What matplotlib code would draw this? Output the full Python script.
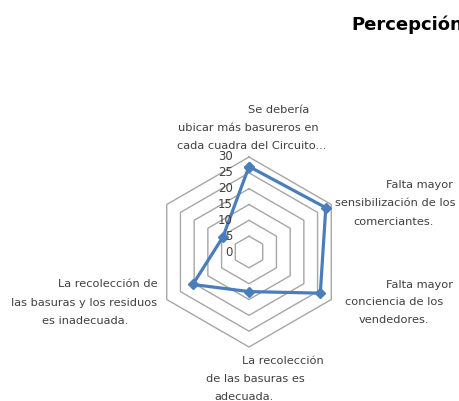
import matplotlib
matplotlib.use("Agg")
import matplotlib.pyplot as plt
import numpy as np

# ---- data ----
categories = [
    "Se debería ubicar más basureros en cada cuadra del Circuito...",
    "Falta mayor sensibilización de los comerciantes.",
    "Falta mayor conciencia de los vendedores.",
    "La recolección de las basuras es adecuada.",
    "La recolección de las basuras y los residuos es inadecuada.",
    "",
]
values = [27, 28, 26, 12.5, 20.5, 9.5]
ticks = [0, 5, 10, 15, 20, 25, 30]
title = "Percepción"

# label lines (as rendered in the reference, each line separately)
label_lines = [
    [("Se debería", 279, 110), ("ubicar más basureros en", 248, 128), ("cada cuadra del Circuito...", 252, 146)],
    [("Falta mayor", 420, 185), ("sensibilización de los", 395, 203), ("comerciantes.", 394, 222)],
    [("Falta mayor", 420, 285), ("conciencia de los", 394, 302), ("vendedores.", 394, 320)],
    [("La recolección", 283, 361), ("de las basuras es", 255, 379), ("adecuada.", 244, 397)],
    [("La recolección de", 108, 284), ("las basuras y los residuos", 84, 303), ("es inadecuada.", 85, 321)],
    [],
]

W, H = 459, 401
fig = plt.figure(figsize=(W / 100, H / 100), dpi=100)
fig.patch.set_facecolor("white")

cx, cy = 249, 252  # center in pixels (top origin)
R = 95.0           # pixels for max tick
half = 100
ax = fig.add_axes([(cx - half) / W, (H - cy - half) / H, 2 * half / W, 2 * half / H])
lim = half / R * ticks[-1]
ax.set_xlim(-lim, lim)
ax.set_ylim(-lim, lim)
ax.set_aspect("equal")
ax.axis("off")

n = len(values)
ang = np.deg2rad(90 - 360 / n * np.arange(n))
angc = np.append(ang, ang[0])

# rings
for t in ticks[1:]:
    ax.plot(t * np.cos(angc), t * np.sin(angc), color="#a6a6a6", lw=1.0, zorder=1)

# series
v = np.append(values, values[0])
ax.plot(v * np.cos(angc), v * np.sin(angc), color="#4a7ebb", lw=2.3,
        marker="D", markersize=5.5, markerfacecolor="#4a7ebb",
        markeredgecolor="#4a7ebb", zorder=3, clip_on=False)

# tick labels
for t in ticks:
    ax.text(-16 / R * ticks[-1], t, str(t), ha="right", va="center",
            fontsize=8.5, color="#404040", zorder=4)

# category labels
for lines in label_lines:
    for txt, x, y in lines:
        fig.text(x / W, 1 - y / H, txt, ha="center", va="center",
                 fontsize=8.2, color="#404040")

fig.text(351 / W, 1 - 25 / H, title, ha="left", va="center",
         fontsize=13, fontweight="bold", color="black")

fig.savefig("out.png", dpi=100)
